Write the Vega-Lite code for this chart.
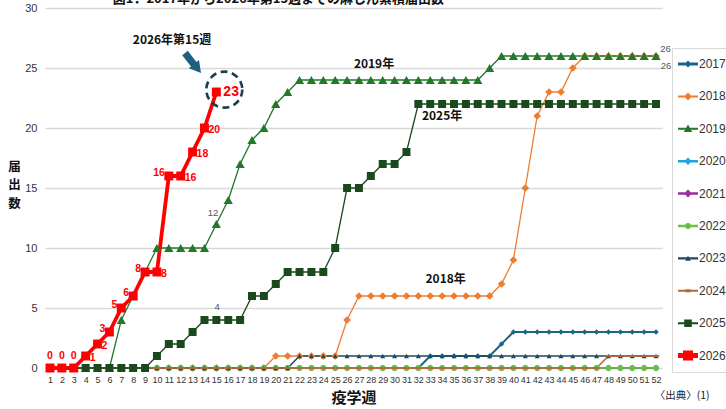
{
  "$schema": "https://vega.github.io/schema/vega-lite/v6.json",
  "width": 617,
  "height": 360,
  "autosize": "none",
  "padding": {"left": 45, "top": 8, "right": 64, "bottom": 41},
  "background": "white",
  "title": {
    "text": "図1．2017年から2026年第15週までの麻しん累積届出数",
    "anchor": "start",
    "dx": 105,
    "offset": -4,
    "font": "Noto Sans CJK JP",
    "fontSize": 13,
    "fontWeight": "bold",
    "color": "#111111"
  },
  "datasets": {
    "weeks": [
      {"w":1,"2017":0,"2018":0,"2019":0,"2020":0,"2021":0,"2022":0,"2023":0,"2024":0,"2025":0,"2026":0},
      {"w":2,"2017":0,"2018":0,"2019":0,"2020":0,"2021":0,"2022":0,"2023":0,"2024":0,"2025":0,"2026":0},
      {"w":3,"2017":0,"2018":0,"2019":0,"2020":0,"2021":0,"2022":0,"2023":0,"2024":0,"2025":0,"2026":0},
      {"w":4,"2017":0,"2018":0,"2019":0,"2020":0,"2021":0,"2022":0,"2023":0,"2024":0,"2025":0,"2026":1},
      {"w":5,"2017":0,"2018":0,"2019":0,"2020":0,"2021":0,"2022":0,"2023":0,"2024":0,"2025":0,"2026":2},
      {"w":6,"2017":0,"2018":0,"2019":0,"2020":0,"2021":0,"2022":0,"2023":0,"2024":0,"2025":0,"2026":3},
      {"w":7,"2017":0,"2018":0,"2019":4,"2020":0,"2021":0,"2022":0,"2023":0,"2024":0,"2025":0,"2026":5},
      {"w":8,"2017":0,"2018":0,"2019":6,"2020":0,"2021":0,"2022":0,"2023":0,"2024":0,"2025":0,"2026":6},
      {"w":9,"2017":0,"2018":0,"2019":8,"2020":0,"2021":0,"2022":0,"2023":0,"2024":0,"2025":0,"2026":8},
      {"w":10,"2017":0,"2018":0,"2019":10,"2020":0,"2021":0,"2022":0,"2023":0,"2024":0,"2025":1,"2026":8},
      {"w":11,"2017":0,"2018":0,"2019":10,"2020":0,"2021":0,"2022":0,"2023":0,"2024":0,"2025":2,"2026":16},
      {"w":12,"2017":0,"2018":0,"2019":10,"2020":0,"2021":0,"2022":0,"2023":0,"2024":0,"2025":2,"2026":16},
      {"w":13,"2017":0,"2018":0,"2019":10,"2020":0,"2021":0,"2022":0,"2023":0,"2024":0,"2025":3,"2026":18},
      {"w":14,"2017":0,"2018":0,"2019":10,"2020":0,"2021":0,"2022":0,"2023":0,"2024":0,"2025":4,"2026":20},
      {"w":15,"2017":0,"2018":0,"2019":12,"2020":0,"2021":0,"2022":0,"2023":0,"2024":0,"2025":4,"2026":23},
      {"w":16,"2017":0,"2018":0,"2019":14,"2020":0,"2021":0,"2022":0,"2023":0,"2024":0,"2025":4},
      {"w":17,"2017":0,"2018":0,"2019":17,"2020":0,"2021":0,"2022":0,"2023":0,"2024":0,"2025":4},
      {"w":18,"2017":0,"2018":0,"2019":19,"2020":0,"2021":0,"2022":0,"2023":0,"2024":0,"2025":6},
      {"w":19,"2017":0,"2018":0,"2019":20,"2020":0,"2021":0,"2022":0,"2023":0,"2024":0,"2025":6},
      {"w":20,"2017":0,"2018":1,"2019":22,"2020":0,"2021":0,"2022":0,"2023":0,"2024":0,"2025":7},
      {"w":21,"2017":0,"2018":1,"2019":23,"2020":0,"2021":0,"2022":0,"2023":0,"2024":0,"2025":8},
      {"w":22,"2017":0,"2018":1,"2019":24,"2020":0,"2021":0,"2022":0,"2023":1,"2024":0,"2025":8},
      {"w":23,"2017":0,"2018":1,"2019":24,"2020":0,"2021":0,"2022":0,"2023":1,"2024":0,"2025":8},
      {"w":24,"2017":0,"2018":1,"2019":24,"2020":0,"2021":0,"2022":0,"2023":1,"2024":0,"2025":8},
      {"w":25,"2017":0,"2018":1,"2019":24,"2020":0,"2021":0,"2022":0,"2023":1,"2024":0,"2025":10},
      {"w":26,"2017":0,"2018":4,"2019":24,"2020":0,"2021":0,"2022":0,"2023":1,"2024":0,"2025":15},
      {"w":27,"2017":0,"2018":6,"2019":24,"2020":0,"2021":0,"2022":0,"2023":1,"2024":0,"2025":15},
      {"w":28,"2017":0,"2018":6,"2019":24,"2020":0,"2021":0,"2022":0,"2023":1,"2024":0,"2025":16},
      {"w":29,"2017":0,"2018":6,"2019":24,"2020":0,"2021":0,"2022":0,"2023":1,"2024":0,"2025":17},
      {"w":30,"2017":0,"2018":6,"2019":24,"2020":0,"2021":0,"2022":0,"2023":1,"2024":0,"2025":17},
      {"w":31,"2017":0,"2018":6,"2019":24,"2020":0,"2021":0,"2022":0,"2023":1,"2024":0,"2025":18},
      {"w":32,"2017":0,"2018":6,"2019":24,"2020":0,"2021":0,"2022":0,"2023":1,"2024":0,"2025":22},
      {"w":33,"2017":1,"2018":6,"2019":24,"2020":0,"2021":0,"2022":0,"2023":1,"2024":0,"2025":22},
      {"w":34,"2017":1,"2018":6,"2019":24,"2020":0,"2021":0,"2022":0,"2023":1,"2024":0,"2025":22},
      {"w":35,"2017":1,"2018":6,"2019":24,"2020":0,"2021":0,"2022":0,"2023":1,"2024":0,"2025":22},
      {"w":36,"2017":1,"2018":6,"2019":24,"2020":0,"2021":0,"2022":0,"2023":1,"2024":0,"2025":22},
      {"w":37,"2017":1,"2018":6,"2019":24,"2020":0,"2021":0,"2022":0,"2023":1,"2024":0,"2025":22},
      {"w":38,"2017":1,"2018":6,"2019":25,"2020":0,"2021":0,"2022":0,"2023":1,"2024":0,"2025":22},
      {"w":39,"2017":2,"2018":7,"2019":26,"2020":0,"2021":0,"2022":0,"2023":1,"2024":0,"2025":22},
      {"w":40,"2017":3,"2018":9,"2019":26,"2020":0,"2021":0,"2022":0,"2023":1,"2024":0,"2025":22},
      {"w":41,"2017":3,"2018":15,"2019":26,"2020":0,"2021":0,"2022":0,"2023":1,"2024":0,"2025":22},
      {"w":42,"2017":3,"2018":21,"2019":26,"2020":0,"2021":0,"2022":0,"2023":1,"2024":0,"2025":22},
      {"w":43,"2017":3,"2018":23,"2019":26,"2020":0,"2021":0,"2022":0,"2023":1,"2024":0,"2025":22},
      {"w":44,"2017":3,"2018":23,"2019":26,"2020":0,"2021":0,"2022":0,"2023":1,"2024":0,"2025":22},
      {"w":45,"2017":3,"2018":25,"2019":26,"2020":0,"2021":0,"2022":0,"2023":1,"2024":0,"2025":22},
      {"w":46,"2017":3,"2018":26,"2019":26,"2020":0,"2021":0,"2022":0,"2023":1,"2024":0,"2025":22},
      {"w":47,"2017":3,"2018":26,"2019":26,"2020":0,"2021":0,"2022":0,"2023":1,"2024":0,"2025":22},
      {"w":48,"2017":3,"2018":26,"2019":26,"2020":0,"2021":0,"2022":0,"2023":1,"2024":1,"2025":22},
      {"w":49,"2017":3,"2018":26,"2019":26,"2020":0,"2021":0,"2022":0,"2023":1,"2024":1,"2025":22},
      {"w":50,"2017":3,"2018":26,"2019":26,"2020":0,"2021":0,"2022":0,"2023":1,"2024":1,"2025":22},
      {"w":51,"2017":3,"2018":26,"2019":26,"2020":0,"2021":0,"2022":0,"2023":1,"2024":1,"2025":22},
      {"w":52,"2017":3,"2018":26,"2019":26,"2020":0,"2021":0,"2022":0,"2023":1,"2024":1,"2025":22}
    ],
    "boldnotes": [
      {"w":28.27,"count":25.35,"t":"2019年"},
      {"w":34.0,"count":21.0,"t":"2025年"},
      {"w":34.3,"count":7.45,"t":"2018年"},
      {"w":11.27,"count":27.3,"t":"2026年第15週"}
    ],
    "graynotes": [
      {"w":14.72,"count":12.9,"t":"12"},
      {"w":15.06,"count":5.05,"t":"4"},
      {"w":52.8,"count":26.6,"t":"26"},
      {"w":52.85,"count":25.15,"t":"26"}
    ],
    "source": [{"w":54.2,"count":-2.35,"t":"〈出典〉(1)"}],
    "arrow": [{"w":12.36,"count":26.25,"w2":13.2,"count2":25.17}],
    "arrowhead": [{"w":13.41,"count":24.95}],
    "ring": [{"w":15.67,"count":23.2}]
  },
  "layer": [
    {
      "data": {"name": "weeks"},
      "transform": [
        {"fold": ["2017","2018","2019","2020","2021","2022","2023","2024","2025","2026"], "as": ["year","count"]},
        {"filter": "isValid(datum.count)"}
      ],
      "encoding": {
        "x": {"field": "w", "type": "quantitative", "scale": {"domain": [0.579, 52.505], "nice": false, "zero": false}, "title": "疫学週"},
        "y": {"field": "count", "type": "quantitative", "scale": {"domain": [0, 30], "nice": false, "zero": false}, "title": ["届","出","数"]},
        "color": {
          "field": "year", "type": "nominal",
          "scale": {
            "domain": ["2017","2018","2019","2020","2021","2022","2023","2024","2025","2026"],
            "range": ["#1b6586","#ed7d31","#23782c","#1fa3dc","#9c2d9c","#6cbf45","#1f4a60","#b5673a","#19491d","#ff0000"]
          },
          "legend": {
            "orient": "none", "legendX": 627, "legendY": 40, "title": null,
            "padding": 10, "strokeColor": "#d9d9d9", "fillColor": "#ffffff",
            "symbolSize": 100, "rowPadding": 20.4,
            "labelFontSize": 12, "labelColor": "#333333", "labelOffset": 5,
            "labelFont": "Liberation Sans",
            "encode": {
              "symbols": {
                "update": {
                  "shape": {"signal": "datum.value==='2017'?'M-2,-0.28L2,-0.28L2,0.28L-2,0.28ZM0,-0.7L0.7,0L0,0.7L-0.7,0Z':datum.value==='2018'?'M-2,-0.2L2,-0.2L2,0.2L-2,0.2ZM0,-0.8L0.8,0L0,0.8L-0.8,0Z':datum.value==='2019'?'M-2,-0.2L2,-0.2L2,0.2L-2,0.2ZM0,-0.85L0.85,0.65L-0.85,0.65Z':datum.value==='2020'?'M-2,-0.25L2,-0.25L2,0.25L-2,0.25ZM0,-0.75L0.75,0L0,0.75L-0.75,0Z':datum.value==='2021'?'M-2,-0.25L2,-0.25L2,0.25L-2,0.25ZM0,-0.8L0.8,0L0,0.8L-0.8,0Z':datum.value==='2022'?'M-2,-0.25L2,-0.25L2,0.25L-2,0.25ZM0,-0.65L0.46,-0.46L0.65,0L0.46,0.46L0,0.65L-0.46,0.46L-0.65,0L-0.46,-0.46Z':datum.value==='2023'?'M-2,-0.22L2,-0.22L2,0.22L-2,0.22ZM0,-0.6L0.55,0.45L-0.55,0.45Z':datum.value==='2024'?'M-2,-0.2L2,-0.2L2,0.2L-2,0.2ZM-0.5,-0.3L0.5,-0.3L0.5,0.3L-0.5,0.3Z':datum.value==='2025'?'M-2,-0.2L2,-0.2L2,0.2L-2,0.2ZM-0.75,-0.75L0.75,-0.75L0.75,0.75L-0.75,0.75Z':'M-2,-0.5L2,-0.5L2,0.5L-2,0.5ZM-1,-1L1,-1L1,1L-1,1Z'"},
                  "fill": {"signal": "scale('color', datum.value)"},
                  "stroke": {"value": "transparent"},
                  "strokeWidth": {"value": 0},
                  "opacity": {"value": 1}
                }
              }
            }
          }
        }
      },
      "layer": [
        {
          "mark": {"type": "line", "interpolate": "linear"},
          "encoding": {
            "strokeWidth": {
              "field": "year", "type": "ordinal", "legend": null,
              "scale": {"type": "ordinal", "range": [2, 1.3, 1.3, 1.5, 1.5, 1.5, 1.5, 1.5, 1.3, 3.8]}
            }
          }
        },
        {
          "mark": {"type": "point", "filled": true, "opacity": 1, "strokeWidth": 0},
          "encoding": {
            "shape": {
              "field": "year", "type": "nominal", "legend": null,
              "scale": {"range": ["diamond","diamond","triangle-up","diamond","diamond","circle","triangle-up","M-1,-0.3L1,-0.3L1,0.3L-1,0.3Z","square","square"]}
            },
            "size": {
              "field": "year", "type": "ordinal", "legend": null,
              "scale": {"type": "ordinal", "range": [30, 60, 85, 40, 40, 36, 25, 40, 64, 80]}
            }
          }
        }
      ]
    },
    {
      "data": {"name": "weeks"},
      "transform": [
        {"fold": ["2026"], "as": ["year","count"]},
        {"filter": "isValid(datum.count)"},
        {"filter": {"field": "w", "oneOf": [1,2,3]}}
      ],
      "mark": {"type": "text", "color": "#ff0000", "fontWeight": "bold", "fontSize": 10.5, "align": "center", "baseline": "middle", "dy": -12},
      "encoding": {
        "x": {"field": "w", "type": "quantitative", "scale": {"domain": [0.579, 52.505], "nice": false, "zero": false}, "title": "疫学週"},
        "y": {"field": "count", "type": "quantitative", "scale": {"domain": [0, 30], "nice": false, "zero": false}, "title": ["届","出","数"]},
        "text": {"field": "count", "type": "quantitative"}
      }
    },
    {
      "data": {"name": "weeks"},
      "transform": [
        {"fold": ["2026"], "as": ["year","count"]},
        {"filter": "isValid(datum.count)"},
        {"filter": {"field": "w", "oneOf": [4,5,10,12,13,14]}}
      ],
      "mark": {"type": "text", "color": "#ff0000", "fontWeight": "bold", "fontSize": 10.5, "align": "left", "baseline": "middle", "dx": 4, "dy": 2},
      "encoding": {
        "x": {"field": "w", "type": "quantitative", "scale": {"domain": [0.579, 52.505], "nice": false, "zero": false}, "title": "疫学週"},
        "y": {"field": "count", "type": "quantitative", "scale": {"domain": [0, 30], "nice": false, "zero": false}, "title": ["届","出","数"]},
        "text": {"field": "count", "type": "quantitative"}
      }
    },
    {
      "data": {"name": "weeks"},
      "transform": [
        {"fold": ["2026"], "as": ["year","count"]},
        {"filter": "isValid(datum.count)"},
        {"filter": {"field": "w", "oneOf": [6,7,8,9,11]}}
      ],
      "mark": {"type": "text", "color": "#ff0000", "fontWeight": "bold", "fontSize": 10.5, "align": "right", "baseline": "middle", "dx": -4, "dy": -3},
      "encoding": {
        "x": {"field": "w", "type": "quantitative", "scale": {"domain": [0.579, 52.505], "nice": false, "zero": false}, "title": "疫学週"},
        "y": {"field": "count", "type": "quantitative", "scale": {"domain": [0, 30], "nice": false, "zero": false}, "title": ["届","出","数"]},
        "text": {"field": "count", "type": "quantitative"}
      }
    },
    {
      "data": {"name": "weeks"},
      "transform": [
        {"fold": ["2026"], "as": ["year","count"]},
        {"filter": "isValid(datum.count)"},
        {"filter": {"field": "w", "oneOf": [15]}}
      ],
      "mark": {"type": "text", "color": "#ff0000", "fontWeight": "bold", "fontSize": 14, "align": "left", "baseline": "middle", "dx": 7},
      "encoding": {
        "x": {"field": "w", "type": "quantitative", "scale": {"domain": [0.579, 52.505], "nice": false, "zero": false}, "title": "疫学週"},
        "y": {"field": "count", "type": "quantitative", "scale": {"domain": [0, 30], "nice": false, "zero": false}, "title": ["届","出","数"]},
        "text": {"field": "count", "type": "quantitative"}
      }
    },
    {
      "data": {"name": "ring"},
      "mark": {"type": "point", "shape": "circle", "size": 1296, "filled": false, "stroke": "#1d3d50", "strokeWidth": 2.6, "strokeDash": [7, 4.5], "opacity": 1},
      "encoding": {
        "x": {"field": "w", "type": "quantitative", "scale": {"domain": [0.579, 52.505], "nice": false, "zero": false}, "title": "疫学週"},
        "y": {"field": "count", "type": "quantitative", "scale": {"domain": [0, 30], "nice": false, "zero": false}, "title": ["届","出","数"]}
      }
    },
    {
      "data": {"name": "arrow"},
      "mark": {"type": "rule", "color": "#20607f", "strokeWidth": 7, "strokeCap": "butt"},
      "encoding": {
        "x": {"field": "w", "type": "quantitative", "scale": {"domain": [0.579, 52.505], "nice": false, "zero": false}, "title": "疫学週"},
        "y": {"field": "count", "type": "quantitative", "scale": {"domain": [0, 30], "nice": false, "zero": false}, "title": ["届","出","数"]},
        "x2": {"field": "w2"},
        "y2": {"field": "count2"}
      }
    },
    {
      "data": {"name": "arrowhead"},
      "mark": {"type": "point", "shape": "triangle-up", "size": 170, "filled": true, "color": "#20607f", "opacity": 1, "angle": 141},
      "encoding": {
        "x": {"field": "w", "type": "quantitative", "scale": {"domain": [0.579, 52.505], "nice": false, "zero": false}, "title": "疫学週"},
        "y": {"field": "count", "type": "quantitative", "scale": {"domain": [0, 30], "nice": false, "zero": false}, "title": ["届","出","数"]}
      }
    },
    {
      "data": {"name": "boldnotes"},
      "mark": {"type": "text", "font": "Noto Sans CJK JP", "fontWeight": "bold", "fontSize": 12, "color": "#111111", "align": "center", "baseline": "middle"},
      "encoding": {
        "x": {"field": "w", "type": "quantitative", "scale": {"domain": [0.579, 52.505], "nice": false, "zero": false}, "title": "疫学週"},
        "y": {"field": "count", "type": "quantitative", "scale": {"domain": [0, 30], "nice": false, "zero": false}, "title": ["届","出","数"]},
        "text": {"field": "t", "type": "nominal"}
      }
    },
    {
      "data": {"name": "graynotes"},
      "mark": {"type": "text", "fontSize": 9.5, "color": "#555555", "align": "center", "baseline": "middle"},
      "encoding": {
        "x": {"field": "w", "type": "quantitative", "scale": {"domain": [0.579, 52.505], "nice": false, "zero": false}, "title": "疫学週"},
        "y": {"field": "count", "type": "quantitative", "scale": {"domain": [0, 30], "nice": false, "zero": false}, "title": ["届","出","数"]},
        "text": {"field": "t", "type": "nominal"}
      }
    },
    {
      "data": {"name": "source"},
      "mark": {"type": "text", "font": "Noto Sans CJK JP", "fontSize": 10.5, "color": "#222222", "align": "center", "baseline": "middle"},
      "encoding": {
        "x": {"field": "w", "type": "quantitative", "scale": {"domain": [0.579, 52.505], "nice": false, "zero": false}, "title": "疫学週"},
        "y": {"field": "count", "type": "quantitative", "scale": {"domain": [0, 30], "nice": false, "zero": false}, "title": ["届","出","数"]},
        "text": {"field": "t", "type": "nominal"}
      }
    }
  ],
  "config": {
    "view": {"stroke": null},
    "font": "Liberation Sans",
    "axisX": {
      "tickCount": 52, "labelOverlap": false, "labelFlush": false,
      "labelFontSize": 9, "labelColor": "#333333", "labelPadding": 7,
      "ticks": false, "domain": false, "grid": false,
      "titleFont": "Noto Sans CJK JP", "titleFontSize": 15, "titleFontWeight": "bold", "titleColor": "#111111",
      "titleBaseline": "top", "titleY": 22
    },
    "axisY": {
      "tickCount": 6,
      "labelFontSize": 11, "labelColor": "#333333", "labelPadding": 8,
      "ticks": false, "domain": false,
      "grid": true, "gridColor": "#d9d9d9", "gridWidth": 1.5,
      "titleAngle": 0, "titleAlign": "center", "titleBaseline": "top",
      "titleX": -31, "titleY": 152, "titleLineHeight": 18.5,
      "titleFont": "Noto Sans CJK JP", "titleFontSize": 12.5, "titleFontWeight": "bold", "titleColor": "#111111"
    }
  }
}
